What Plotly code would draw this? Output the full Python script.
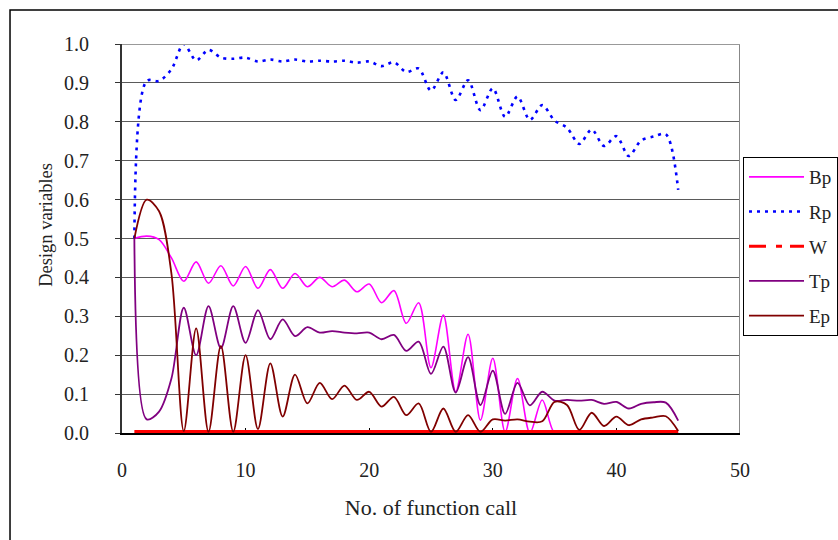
import plotly.graph_objects as go

calls = [1, 2, 3, 4, 5, 6, 7, 8, 9, 10, 11, 12, 13, 14, 15, 16, 17, 18, 19, 20,
         21, 22, 23, 24, 25, 26, 27, 28, 29, 30, 31, 32, 33, 34, 35, 36, 37, 38, 39, 40,
         41, 42, 43, 44, 45]

Bp = [0.5, 0.506, 0.497, 0.45, 0.39, 0.44, 0.385, 0.43, 0.378, 0.428,
      0.372, 0.42, 0.372, 0.41, 0.376, 0.4, 0.376, 0.393, 0.363, 0.383,
      0.335, 0.366, 0.282, 0.335, 0.168, 0.303, 0.106, 0.254, 0.033, 0.192,
      0.003, 0.14, 0.0, 0.085, 0.0, 0.0, 0.0, 0.0, 0.0, 0.0,
      0.0, 0.0, 0.0, 0.0, 0.0]

Rp = [0.5, 0.905, 0.905, 0.935, 1.0, 0.958, 0.985, 0.965, 0.962, 0.965,
      0.955, 0.96, 0.955, 0.96, 0.955, 0.957, 0.955, 0.957, 0.952, 0.955,
      0.943, 0.953, 0.928, 0.937, 0.88, 0.927, 0.856, 0.907, 0.83, 0.886,
      0.813, 0.865, 0.805, 0.843, 0.803, 0.785, 0.743, 0.78, 0.738, 0.763,
      0.712, 0.752, 0.762, 0.768, 0.625]

W = [0.0] * 45

Tp = [0.5, 0.035, 0.055, 0.14, 0.322, 0.2, 0.326, 0.218, 0.326, 0.232,
      0.316, 0.241, 0.292, 0.249, 0.272, 0.258, 0.262, 0.258, 0.256, 0.258,
      0.241, 0.252, 0.211, 0.235, 0.152, 0.222, 0.104, 0.195, 0.072, 0.16,
      0.049, 0.129, 0.071, 0.106, 0.083, 0.085, 0.083, 0.085, 0.075, 0.08,
      0.063, 0.075, 0.079, 0.078, 0.032]

Ep = [0.5, 0.6, 0.57, 0.41, 0.005, 0.269, 0.003, 0.224, 0.003, 0.2,
      0.01, 0.179, 0.042, 0.15, 0.076, 0.129, 0.087, 0.122, 0.085, 0.106,
      0.068, 0.093, 0.046, 0.076, 0.003, 0.063, 0.003, 0.046, 0.003, 0.035,
      0.032, 0.035, 0.029, 0.03, 0.08, 0.072, 0.008, 0.052, 0.018, 0.042,
      0.02, 0.035, 0.04, 0.043, 0.005]

x_ticks = [0, 10, 20, 30, 40, 50]
y_ticks = [0.0, 0.1, 0.2, 0.3, 0.4, 0.5, 0.6, 0.7, 0.8, 0.9, 1.0]
y_ticktext = ["0.0", "0.1", "0.2", "0.3", "0.4", "0.5", "0.6", "0.7", "0.8", "0.9", "1.0"]

FONT = "'Liberation Serif', 'Times New Roman', serif"

fig = go.Figure()

def add(name, y, color, width, dash, showlegend=True, group=None):
    fig.add_trace(go.Scatter(
        x=calls, y=y, name=name, mode="lines",
        line=dict(color=color, width=width, dash=dash, shape="spline", smoothing=0.9),
        showlegend=showlegend, legendgroup=group or name, hoverinfo="skip",
    ))

add("Bp", Bp, "#FF00FF", 1.6, "solid")
add("Rp", Rp, "#0000FF", 2.6, "3px,5px")
# W drawn solid along the axis; its legend entry shows the dash style
add("W", W, "#FF0000", 6, "solid", showlegend=False, group="W")
fig.add_trace(go.Scatter(x=[None], y=[None], name="W", mode="lines",
                         line=dict(color="#FF0000", width=3, dash="17px,10px,6px,8px"),
                         legendgroup="W", hoverinfo="skip"))
add("Tp", Tp, "#800080", 1.8, "solid")
add("Ep", Ep, "#800000", 1.8, "solid")

fig.update_layout(
    width=838, height=540,
    margin=dict(l=122, r=98, t=44, b=107),
    paper_bgcolor="white", plot_bgcolor="white",
    font=dict(family=FONT, size=20, color="#222"),
    showlegend=True,
    legend=dict(
        xref="container", yref="container",
        x=743 / 838, y=1 - 157 / 540, xanchor="left", yanchor="top",
        bgcolor="white", bordercolor="black", borderwidth=1,
        font=dict(family=FONT, size=19, color="#222"),
        traceorder="grouped", tracegroupgap=7, itemwidth=55,
    ),
    xaxis=dict(
        range=[0, 50], tickvals=x_ticks, ticks="inside", ticklen=5, tickcolor="black",
        showgrid=False, zeroline=False, showline=True, linecolor="black", linewidth=2,
        ticklabelstandoff=18, layer="below traces",
        title=dict(text="No. of function call", font=dict(family=FONT, size=22), standoff=20),
        automargin=False,
    ),
    yaxis=dict(
        range=[0, 1.0], tickvals=y_ticks, ticktext=y_ticktext, ticks="outside", ticklen=5,
        tickcolor="#333", showgrid=True, gridcolor="#5a5a5a", gridwidth=1.3,
        zeroline=False, showline=True, linecolor="#333", linewidth=2,
        ticklabelstandoff=22, layer="below traces",
        automargin=False,
    ),
    annotations=[
        dict(text="Design variables", xref="paper", yref="paper",
             x=-0.123, y=0.535, xanchor="center", yanchor="middle", textangle=-90,
             showarrow=False, font=dict(family=FONT, size=18.5, color="#222")),
    ],
    shapes=[
        dict(type="line", xref="x", yref="y", x0=50, x1=50, y0=0, y1=1.0,
             line=dict(color="#888", width=2)),
        dict(type="line", xref="x", yref="y", x0=0, x1=50, y0=1.0, y1=1.0,
             line=dict(color="#999", width=2)),
        dict(type="rect", xref="paper", yref="paper", x0=-0.1812, x1=1.6, y0=-0.6, y1=1.0874,
             line=dict(color="black", width=1.5), fillcolor="rgba(0,0,0,0)", layer="below"),
    ],
)

fig.write_html("out.html")
